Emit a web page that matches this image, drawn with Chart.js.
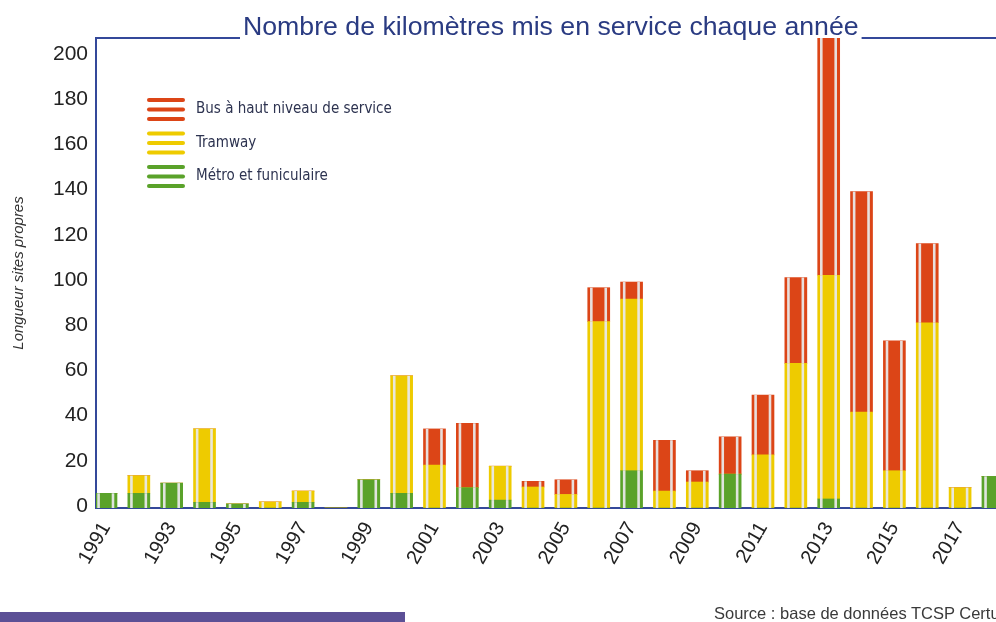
<!DOCTYPE html>
<html lang="fr">
<head>
<meta charset="utf-8">
<title>Nombre de kilomètres mis en service chaque année</title>
<script src="https://cdn.jsdelivr.net/npm/chart.js@4.4.1/dist/chart.umd.min.js"></script>
<style>
  html, body { margin: 0; padding: 0; background: #fff; overflow: hidden; }
  #wrap { position: relative; width: 996px; height: 622px; overflow: hidden; }
  #chart { position: absolute; left: 0; top: 0; }
  .band { position: absolute; left: 0; top: 612px; width: 405px; height: 10px; background: #5c5096; }
  .source { position: absolute; left: 714px; top: 604px; font: 16.5px "Liberation Sans", Arial, sans-serif; color: #3a3a3a; white-space: nowrap; }
</style>
</head>
<body>
<div id="wrap">
  <canvas id="chart" width="996" height="622"></canvas>
  <div class="band"></div>
  <div class="source">Source : base de données TCSP Certu</div>
</div>
<script>
const years = [1991, 1992, 1993, 1994, 1995, 1996, 1997, 1998, 1999, 2000,
               2001, 2002, 2003, 2004, 2005, 2006, 2007, 2008, 2009, 2010,
               2011, 2012, 2013, 2014, 2015, 2016, 2017, 2018];
const metroKm = [6.5, 6.5, 11, 2.5, 1.8, 0, 2.5, 0, 12.5, 6.5,
                 0, 9, 3.5, 0, 0, 0, 16.5, 0, 0, 15,
                 0, 0, 4, 0, 0, 0, 0, 14];
const tramKm  = [0, 7.8, 0, 32.5, 0, 2.7, 5, 0, 0, 52,
                 19, 0, 15, 9.3, 6, 82.5, 76, 7.5, 11.5, 0,
                 23.5, 64, 99, 42.5, 16.5, 82, 9, 0];
const busKm   = [0, 0, 0, 0, 0, 0, 0, 0, 0, 0,
                 16, 28.5, 0, 2.5, 6.5, 15, 7.5, 22.5, 5, 16.5,
                 26.5, 38, 107, 97.5, 57.5, 35, 0, 0];
const seriesNames = ['Métro et funiculaire', 'Tramway', 'Bus à haut niveau de service'];
const xTickYears = [1991, 1993, 1995, 1997, 1999, 2001, 2003, 2005, 2007, 2009, 2011, 2013, 2015, 2017];
const yTickValues = [0, 20, 40, 60, 80, 100, 120, 140, 160, 180, 200];
const chartTitle = 'Nombre de kilomètres mis en service chaque année';
const yTitle = 'Longueur sites propres';

const NAVY = '#2a3b82';
const AXIS = '#34489a';
const GREEN = '#5aa22a';
const YELLOW = '#eecb00';
const RED = '#dc4517';
const FONT = '"Liberation Sans", Arial, sans-serif';

Chart.defaults.font.family = FONT;

// titre avec filets de part et d'autre
const titlePlugin = {
  id: 'titleRule',
  afterDraw(chart) {
    const { ctx, chartArea } = chart;
    ctx.save();
    ctx.font = '26.7px ' + FONT;
    ctx.fillStyle = NAVY;
    ctx.textBaseline = 'alphabetic';
    const tx = 243;
    const w = ctx.measureText(chartTitle).width;
    ctx.fillText(chartTitle, tx, 35);
    ctx.strokeStyle = AXIS;
    ctx.lineWidth = 2;
    ctx.beginPath();
    ctx.moveTo(chartArea.left - 1, chartArea.top);
    ctx.lineTo(tx - 3, chartArea.top);
    ctx.moveTo(tx + w + 3, chartArea.top);
    ctx.lineTo(chart.width, chartArea.top);
    ctx.stroke();
    ctx.restore();
  }
};

// bandes claires verticales sur chaque barre (effet d'impression)
const stripePlugin = {
  id: 'printStripes',
  afterDatasetsDraw(chart) {
    const { ctx, chartArea } = chart;
    ctx.save();
    ctx.beginPath();
    ctx.rect(chartArea.left, chartArea.top, chartArea.right - chartArea.left, chartArea.bottom - chartArea.top);
    ctx.clip();
    ctx.fillStyle = 'rgba(232,232,232,0.95)';
    chart.data.datasets.forEach((ds, i) => {
      chart.getDatasetMeta(i).data.forEach(bar => {
        const { x, y, base, width } = bar.getProps(['x', 'y', 'base', 'width'], true);
        const top = Math.min(y, base);
        const h = Math.abs(base - y);
        if (h < 0.5) return;
        const left = x - width / 2;
        ctx.fillRect(left + 2.3, top, 2.6, h);
        ctx.fillRect(left + width - 5.3, top, 2.6, h);
      });
    });
    ctx.restore();
  }
};

// légende à trois traits
const legendPlugin = {
  id: 'stripedLegend',
  afterDraw(chart) {
    const { ctx, chartArea } = chart;
    const x0 = chartArea.left + 53;
    const y0 = chartArea.top + 71.5;
    ctx.save();
    ctx.lineCap = 'round';
    ctx.lineWidth = 4;
    ctx.font = '15px "Liberation Sans Narrow", "DejaVu Sans Condensed", sans-serif';
    ctx.textBaseline = 'middle';
    const items = chart.data.datasets.slice().reverse();
    items.forEach((ds, i) => {
      const cy = y0 + i * 33.5;
      ctx.strokeStyle = ds.backgroundColor;
      [-9.5, 0, 9.5].forEach(d => {
        ctx.beginPath();
        ctx.moveTo(x0, cy + d);
        ctx.lineTo(x0 + 34, cy + d);
        ctx.stroke();
      });
      ctx.fillStyle = '#2d3350';
      ctx.fillText(ds.label, x0 + 47, cy);
    });
    ctx.restore();
  }
};

new Chart(document.getElementById('chart'), {
  type: 'bar',
  data: {
    labels: years,
    datasets: [
      { label: seriesNames[0], data: metroKm, backgroundColor: GREEN },
      { label: seriesNames[1], data: tramKm, backgroundColor: YELLOW },
      { label: seriesNames[2], data: busKm, backgroundColor: RED }
    ]
  },
  options: {
    responsive: false,
    animation: false,
    layout: { padding: { top: 38, left: 0, right: 0, bottom: 0 } },
    datasets: { bar: { barThickness: 22, borderWidth: 0 } },
    plugins: { legend: { display: false }, tooltip: { enabled: false } },
    scales: {
      x: {
        type: 'linear',
        stacked: true,
        offset: false,
        min: 1990.696,
        max: 2018.093,
        grid: { display: false, drawTicks: false, offset: false },
        border: { display: true, color: AXIS, width: 2 },
        afterBuildTicks: s => { s.ticks = xTickYears.map(v => ({ value: v })); },
        afterFit: s => { s.height = 114; },
        ticks: {
          autoSkip: false,
          minRotation: 60,
          maxRotation: 60,
          padding: 10,
          color: '#222',
          font: { size: 20 },
          callback: v => String(v)
        }
      },
      y: {
        stacked: true,
        min: 0,
        max: 208,
        grid: { display: false, drawTicks: false },
        border: { display: true, color: AXIS, width: 2 },
        afterBuildTicks: s => { s.ticks = yTickValues.map(v => ({ value: v })); },
        afterFit: s => { s.width = 96; },
        ticks: { padding: 8, color: '#222', font: { size: 21 }, labelOffset: -2 },
        title: {
          display: true,
          text: yTitle,
          color: '#333',
          font: { size: 15, style: 'italic' },
          padding: { top: 10, bottom: 0 }
        }
      }
    }
  },
  plugins: [titlePlugin, stripePlugin, legendPlugin]
});
</script>
</body>
</html>
